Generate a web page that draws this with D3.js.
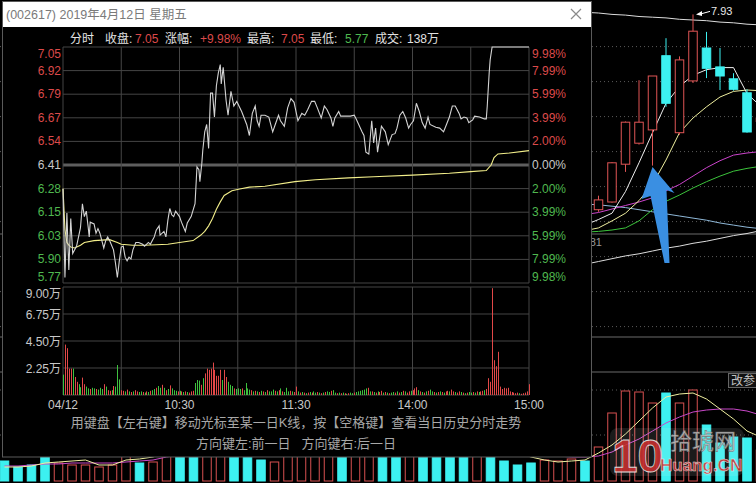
<!DOCTYPE html>
<html><head><meta charset="utf-8">
<script src="https://cdn.jsdelivr.net/npm/d3@7"></script>
<style>
html,body{margin:0;padding:0;background:#000;overflow:hidden}
svg{display:block}
text{font-family:"Liberation Sans",Arial,"Noto Sans CJK SC",sans-serif}
</style></head><body>
<svg id="c" width="756" height="483"></svg>
<script>
// ---------------- intraday data ----------------
const priceTickLabels = ["7.05","6.92","6.79","6.67","6.54","6.41","6.28","6.15","6.03","5.90","5.77"];
const pctTickLabels = ["9.98%","7.99%","5.99%","3.99%","2.00%","0.00%","2.00%","3.99%","5.99%","7.99%","9.98%"];
const volTickValues = [9, 6.75, 4.5, 2.25];
const volTickLabels = ["9.00万","6.75万","4.50万","2.25万"];
const timeTickMinutes = [0, 60, 120, 180, 240];
const timeTickLabels = ["04/12","10:30","11:30","14:00","15:00"];
const preClose = 6.41;

// [minute since 9:30, price]
const priceLine = [[0,6.28],[1,5.80],[2,6.15],[3,5.84],[4,6.12],[5,5.93],[6,5.95],[7,5.97],[8,6.02],[9,6.07],[10,6.20],[11,6.13],[12,6.16],[13,6.07],[13.5,6.02],[14,6.10],[16,6.09],[17,6.04],[18,6.065],[19,6.04],[20,6.00],[21,5.96],[22,6.00],[23,6.02],[24,6.00],[26,5.95],[27,5.88],[28,5.80],[29,5.89],[30,5.965],[31,5.97],[32,5.91],[33,5.89],[34,5.91],[35,5.90],[36,5.95],[37.5,5.99],[39,5.99],[41,5.98],[42,5.97],[44,5.99],[45,5.98],[46,6.00],[47,6.02],[48,6.056],[49.5,6.08],[50,6.03],[52,6.05],[53,6.02],[54,6.11],[55,6.174],[56,6.14],[57,6.13],[58,6.16],[60,6.13],[61,6.10],[63,6.05],[64,6.095],[66,6.13],[68,6.20],[69,6.40],[70,6.385],[70.5,6.32],[71.5,6.42],[72,6.49],[73,6.59],[74,6.63],[75,6.50],[75.5,6.655],[76,6.80],[77,6.80],[78,6.67],[79,6.84],[80,6.91],[81,6.955],[81.5,6.85],[82.5,6.94],[84,6.76],[85,6.68],[86.5,6.81],[88,6.73],[89.5,6.755],[92,6.70],[94.6,6.63],[96,6.57],[97.5,6.69],[99,6.73],[100,6.65],[101,6.62],[102,6.68],[104,6.68],[106,6.67],[108,6.59],[109,6.62],[111,6.68],[112,6.65],[114,6.62],[115.7,6.72],[117.4,6.77],[119,6.75],[121,6.65],[122,6.67],[123,6.69],[124.5,6.68],[126,6.71],[128,6.755],[129.6,6.755],[131,6.72],[133,6.665],[134.6,6.73],[136,6.71],[138,6.665],[139,6.62],[140,6.665],[142,6.70],[143,6.675],[145,6.675],[148,6.675],[150,6.68],[151,6.66],[154,6.59],[155,6.57],[156,6.48],[157.5,6.47],[159,6.65],[160,6.53],[161,6.61],[162,6.48],[164,6.62],[166,6.59],[167.5,6.52],[169.5,6.575],[171,6.58],[172,6.61],[173.5,6.68],[175,6.70],[176.5,6.665],[178,6.61],[179,6.63],[180.5,6.65],[182,6.745],[183.5,6.70],[185,6.64],[186.5,6.61],[188,6.67],[189,6.63],[192,6.615],[194,6.61],[196,6.59],[197.5,6.63],[199,6.67],[200.5,6.73],[202,6.73],[204,6.69],[205,6.66],[206.5,6.67],[208,6.665],[209,6.64],[211,6.655],[212,6.675],[214.5,6.67],[217,6.66],[218,6.66],[218.5,6.73],[219.5,6.91],[220,6.98],[221,7.05],[240,7.05]];

const avgLine = [[0,6.283],[1,6.06],[2,5.99],[3,5.975],[4,5.965],[6,5.96],[9,5.975],[11,5.99],[16,6.00],[24,6.005],[28,5.99],[30,5.98],[36,5.975],[42,5.975],[54,5.98],[60,5.99],[67,6.00],[71,6.03],[73,6.05],[75,6.08],[77,6.12],[79,6.17],[81,6.21],[83,6.245],[87,6.27],[91,6.28],[96,6.29],[104,6.295],[119.5,6.32],[130,6.33],[147,6.34],[160,6.346],[180,6.355],[199,6.365],[210,6.374],[218,6.38],[220.5,6.41],[222,6.45],[224,6.47],[230,6.475],[240,6.488]];

// per-minute volume (万)
const volumes = [
1.7,4.2,3.9,2.2,2.2,2.2,1.5,1.1,0.9,0.65,
1.45,0.9,0.7,0.55,0.5,0.6,0.55,0.5,0.45,0.6,
0.5,0.9,0.7,0.4,0.35,0.4,0.75,0.7,2.5,1.3,
0.4,0.35,0.3,0.45,0.3,0.25,0.3,0.4,0.3,0.25,
0.3,0.25,0.2,0.3,0.25,0.35,0.4,0.5,0.6,0.75,
0.6,0.85,0.6,0.4,0.5,0.8,0.55,0.4,0.35,0.3,
0.35,0.3,0.25,0.3,0.25,0.2,0.3,0.35,1.0,1.25,
1.2,0.85,1.4,1.8,2.2,2.1,2.2,2.7,2.1,1.6,
1.6,2.1,1.25,2.1,1.5,1.1,0.85,0.75,0.55,0.5,
0.55,0.5,0.55,0.4,1.0,0.55,0.45,0.4,0.3,0.35,
0.3,0.25,0.35,0.3,0.25,0.4,0.3,0.3,0.45,0.35,
0.3,0.4,0.55,0.3,0.25,0.6,0.3,0.35,0.3,0.25,
0.7,0.3,0.2,0.25,0.2,0.15,0.2,0.25,0.2,0.3,
0.2,0.25,0.2,0.15,0.2,0.25,0.3,0.25,0.35,0.4,
0.2,0.15,0.2,0.15,0.2,0.15,0.1,0.15,0.2,0.15,
0.2,0.25,0.3,0.35,0.4,0.45,0.55,0.6,0.3,0.3,
0.25,0.2,0.3,0.25,0.35,0.2,0.25,0.2,0.15,0.2,
0.25,0.2,0.3,0.2,0.25,0.35,0.3,0.2,0.3,0.35,
0.4,0.55,0.65,0.4,0.3,0.25,0.2,0.3,0.35,0.45,
0.3,0.25,0.2,0.25,0.3,0.25,0.2,0.3,0.35,0.3,
0.45,0.3,0.25,0.2,0.3,0.25,0.2,0.15,0.2,0.25,
0.2,0.25,0.2,0.3,0.25,0.3,0.35,0.4,0.5,1.4,
1.1,8.9,2.9,2.4,3.6,0.7,0.5,0.6,0.55,0.6,
0.3,0.25,0.2,0.15,0.2,0.15,0.1,0.15,0.2,0.3,
0.9];
const volDir = ["grrrrgrrgg","rrggrggrgg","grgrrgrggg","rrgrgrgrrg","grgrgrggrg","grgrgrgggr","grgrgrrrgg","grgrrrrrrr","rrgrrgggrg","ggrggggrgr","grgrgrgggr","grgrgggrgr","rgrgrgrgrg","grgrgrggrg","grgrgrgrgg","rggggggrgr","grgrrgrgrg","grgrgrgrrg","rrrgrgrgrg","grgrgrgrrg","rrgrrgrgrg","grgrgrrgrr","rrrrrrrrrr","rrrrrgrrrr","r"].join("");

// ---------------- background K-line chart data ----------------
const kFirst = 43; // index of first entry in the arrays below
const kCandles = [ // [open, high, low, close] from index 44
[5.14,5.34,5.11,5.28],[5.25,5.82,5.24,5.81],[5.79,6.40,5.68,6.39],[6.09,6.99,6.07,6.39],
[6.28,7.05,5.77,7.05],[7.34,7.59,6.61,6.66],[6.24,7.33,6.21,7.28],[6.98,7.93,6.95,7.69],
[7.45,7.68,7.02,7.16],[7.18,7.45,6.85,7.05],[7.01,7.09,6.84,6.86],[6.81,6.86,6.24,6.25],
[6.40,6.50,6.30,6.45]];
const kMA5  = [4.92,5.00,5.09,5.40,5.81,6.24,6.66,6.90,7.06,7.14,7.17,7.17,6.80,6.62];
const kMA10 = [4.84,4.88,4.98,5.09,5.27,5.50,5.85,6.24,6.45,6.61,6.75,6.83,6.85,6.84];
const kMA20 = [5.07,5.10,5.15,5.20,5.25,5.31,5.41,5.50,5.62,5.74,5.84,5.92,5.95,5.97];
const kMA30 = [4.82,4.83,4.85,4.88,4.98,5.14,5.26,5.35,5.45,5.54,5.62,5.69,5.73,5.76];
const kMA60 = [5.22,5.21,5.19,5.17,5.14,5.11,5.08,5.05,5.02,4.99,4.95,4.92,4.89,4.87];
const kTopLine = [7.96,7.95,7.93,7.92,7.90,7.89,7.88,7.86,7.85,7.84,7.82,7.81,7.79,7.78];
const kLowLine = [4.36,4.40,4.44,4.48,4.51,4.55,4.59,4.62,4.66,4.69,4.73,4.77,4.80,4.84];
const kGridPrices = [7.47,6.97,6.47,5.97,5.47,4.97,4.47,3.97,3.47];
const kVol = [20,14,16,45,18,16,16,14,16,42,18,19,48,55,60,52,44,50,38,21,19,40,46,52,58,62,48,44,55,50,42,47,52,45,40,36,30,20,16,18,21,20,22,20,34,68,90,89,78,88,78,91,56,38,44,43,31];
const kVolType = "ccccrrrrrrcrrccrrcccrrrrrcrrccrccccrccccrrrcrrrrrcrrccccr";
const kVolMA5 = [14,14,15,18,19,20,21,16,16,21,22,24,28,30,38,44,48,52,48,41,34,34,33,36,43,52,53,53,53,52,48,48,49,47,45,44,41,35,28,24,21,19,20,21,28,36,47,60,73,84,87,88,82,72,62,50,44];
const kVolMA10 = [15,15,16,17,17,18,18,18,18,19,20,21,24,26,29,32,35,38,40,40,40,40,41,42,43,44,45,46,47,48,48,48,48,47,45,44,41,38,34,30,27,25,24,24,25,29,36,42,50,58,64,69,71,72,72,70,66];
const kVolGrid = [91, 46];

// ---------------- drawing ----------------
const svg = d3.select("#c");
svg.append("rect").attr("width",756).attr("height",483).attr("fill","#000");

const RED = "#dc4a4a", GREEN = "#4fb84f", GRID = "#454545", LABEL = "#c8c8c8";

// K-line background chart
const kx = d3.scaleLinear().domain([0,56]).range([4.5, 760.5]);
const ky = d3.scaleLinear().domain([5.77,7.05]).range([165.6,76]);
const kvy = d3.scaleLinear().domain([0,100]).range([481,381]);
const bg = svg.append("g");

bg.selectAll(".kg").data(kGridPrices).join("line")
  .attr("x1",0).attr("x2",756).attr("y1",d=>ky(d)).attr("y2",d=>ky(d))
  .attr("stroke","#5a5a5a").attr("stroke-dasharray","1,3");
bg.selectAll(".kvg").data(kVolGrid).join("line")
  .attr("x1",0).attr("x2",756).attr("y1",d=>kvy(d)).attr("y2",d=>kvy(d))
  .attr("stroke","#5a5a5a").attr("stroke-dasharray","1,3");
[234,337,372].forEach(y=>bg.append("line").attr("x1",0).attr("x2",756).attr("y1",y).attr("y2",y).attr("stroke","#6a6a6a").attr("stroke-width",1));
bg.append("text").attr("x",602).attr("y",242).attr("text-anchor","end").attr("dominant-baseline","central")
  .attr("font-size",11).attr("fill","#9a9a9a").text("5.81");

// "改参" button
bg.append("rect").attr("x",728.5).attr("y",373.5).attr("width",30).attr("height",14).attr("fill","#111").attr("stroke","#666");
bg.append("text").attr("x",731).attr("y",381).attr("dominant-baseline","central").attr("font-size",12).attr("fill","#c0c0c0").text("改参");

const kLine = d3.line().x((d,i)=>kx(kFirst+i)).y(d=>ky(d));
[[kTopLine,"#dcdcdc"],[kLowLine,"#dcdcdc"],[kMA60,"#8fb8d8"],[kMA30,"#3cc43c"],[kMA20,"#cc44cc"],[kMA10,"#f0f0a0"],[kMA5,"#eeeeee"]]
 .forEach(([arr,col])=>bg.append("path").datum(arr).attr("d",kLine).attr("fill","none").attr("stroke",col).attr("stroke-width",1));

const cw = 8.5;
const cg = bg.selectAll(".cd").data(kCandles).join("g");
cg.append("line").attr("x1",(d,i)=>kx(kFirst+1+i)).attr("x2",(d,i)=>kx(kFirst+1+i))
  .attr("y1",d=>ky(d[1])).attr("y2",d=>ky(d[2]))
  .attr("stroke",d=>d[3]>=d[0]?"#e05555":"#3cf0f0");
cg.append("rect").attr("x",(d,i)=>kx(kFirst+1+i)-cw/2).attr("width",cw)
  .attr("y",d=>ky(Math.max(d[0],d[3]))).attr("height",d=>Math.max(1,Math.abs(ky(d[0])-ky(d[3]))))
  .attr("fill",d=>d[3]>=d[0]?"#000":"#3cf0f0").attr("stroke",d=>d[3]>=d[0]?"#e05555":"#3cf0f0");

// 7.93 annotation
const hiIdx = 51, hiVal = 7.93;
bg.append("line").attr("x1",kx(hiIdx)+6).attr("y1",ky(hiVal)).attr("x2",kx(hiIdx)+17).attr("y2",ky(hiVal)-3).attr("stroke","#fff");
bg.append("path").attr("d",`M${kx(hiIdx)+3},${ky(hiVal)} l6,-3.5 l0,5 z`).attr("fill","#fff");
bg.append("text").attr("x",kx(hiIdx)+18).attr("y",ky(hiVal)-3.5).attr("dominant-baseline","central")
  .attr("font-size",11).attr("fill","#e8e8e8").text("7.93");

// K volume panel
bg.selectAll(".kv").data(kVol).join("rect")
  .attr("x",(d,i)=>kx(i)-cw/2).attr("width",cw)
  .attr("y",d=>kvy(d)).attr("height",d=>kvy(0)-kvy(d))
  .attr("fill",(d,i)=>kVolType[i]==="c"?"#3cf0f0":"#000")
  .attr("stroke",(d,i)=>kVolType[i]==="c"?"#3cf0f0":"#d85050");
const kvLine = d3.line().x((d,i)=>kx(i)).y(d=>kvy(d));
bg.append("path").datum(kVolMA10).attr("d",kvLine).attr("fill","none").attr("stroke","#c848c8");
bg.append("path").datum(kVolMA5).attr("d",kvLine).attr("fill","none").attr("stroke","#f0f0a0");

// blue arrow pointing at the 4/12 lower shadow
const tx = kx(48), ty = ky(5.77)+1.5;
bg.append("path").attr("d",`M${tx},${ty} L${tx+22},${ty+26} L${tx+14},${ty+23} L${tx+17},${ty+96} L${tx+12},${ty+96} L${tx-2},${ty+29} L${tx-11},${ty+32} Z`)
  .attr("fill","#3a8fe2");

// watermark
const wm = bg.append("g").attr("opacity",0.9);
wm.append("rect").attr("x",610).attr("y",428).attr("width",134).attr("height",48).attr("rx",8).attr("fill","#ffffff").attr("opacity",0.12);
wm.append("text").attr("x",612).attr("y",472).attr("font-size",46).attr("font-weight","bold").attr("fill","#c83232").attr("stroke","#eee").attr("stroke-width",0.8).text("10");
wm.append("text").attr("x",670).attr("y",449).attr("font-size",22).attr("fill","#c8c8c8").attr("stroke","#777").attr("stroke-width",0.6).text("拾琥网");
wm.append("text").attr("x",660).attr("y",471).attr("font-size",17).attr("font-weight","bold").attr("fill","#cc3333").attr("stroke","#eee").attr("stroke-width",0.5).text("Huang.CN");

// ---------------- popup ----------------
const pop = svg.append("g");
pop.append("rect").attr("x",2.5).attr("y",1.5).attr("width",589).attr("height",455.5).attr("fill","#000").attr("stroke","#5a5a5a");
pop.append("rect").attr("x",3).attr("y",2).attr("width",588).attr("height",25).attr("fill","#fff");
pop.append("text").attr("x",6).attr("y",14.5).attr("dominant-baseline","central").attr("font-size",12.5).attr("fill","#7a7a7a")
  .text("(002617) 2019年4月12日 星期五");
pop.append("path").attr("d","M571,9 L581,19 M581,9 L571,19").attr("stroke","#8a8a8a").attr("stroke-width",1.2);

// header info
const hdr = [["分时",70,"#e6e6e6"],["收盘:",105,"#e0e0e0"],["7.05",135,RED],["涨幅:",165,"#e0e0e0"],["+9.98%",200,RED],
             ["最高:",247,"#e0e0e0"],["7.05",281,RED],["最低:",310,"#e0e0e0"],["5.77",345,GREEN],["成交:",375,"#e0e0e0"],["138万",407,"#e0e0e0"]];
pop.selectAll(".hd").data(hdr).join("text").attr("x",d=>d[1]).attr("y",38.5).attr("dominant-baseline","central")
  .attr("font-size",12).attr("fill",d=>d[2]).text(d=>d[0]);

// scales
const xm = d3.scaleLinear().domain([0,240]).range([63,529]);
const yp = d3.scaleLinear().domain([5.77,7.05]).range([283,47]);
const yv = d3.scaleLinear().domain([0,9]).range([395,287]);
const tickY = d3.scaleLinear().domain([0,priceTickLabels.length-1]).range([47,283]);

const plot = pop.append("g");
// price gridlines
priceTickLabels.forEach((t,i)=>{
  if(i===5) return;
  plot.append("line").attr("x1",63).attr("x2",529).attr("y1",tickY(i)).attr("y2",tickY(i)).attr("stroke",GRID);
});
plot.append("line").attr("x1",63).attr("x2",529).attr("y1",yp(preClose)).attr("y2",yp(preClose)).attr("stroke","#5e5e5e").attr("stroke-width",3);
// volume gridlines
[0].concat(volTickValues).forEach(v=>plot.append("line").attr("x1",63).attr("x2",529).attr("y1",yv(v)).attr("y2",yv(v)).attr("stroke",GRID));
// vertical gridlines
d3.range(0,241,30).forEach(m=>{
  plot.append("line").attr("x1",xm(m)).attr("x2",xm(m)).attr("y1",47).attr("y2",283).attr("stroke",GRID);
  plot.append("line").attr("x1",xm(m)).attr("x2",xm(m)).attr("y1",287).attr("y2",395).attr("stroke",GRID);
});

// price labels
const tcol = i => i<5?RED:(i===5?LABEL:GREEN);
const toff = i => i===0?7:(i===priceTickLabels.length-1?-6:0);
plot.selectAll(".pl").data(priceTickLabels).join("text").attr("x",61).attr("y",(d,i)=>tickY(i)+toff(i))
  .attr("text-anchor","end").attr("dominant-baseline","central").attr("font-size",12).attr("fill",(d,i)=>tcol(i)).text(d=>d);
plot.selectAll(".pr").data(pctTickLabels).join("text").attr("x",532).attr("y",(d,i)=>tickY(i)+toff(i))
  .attr("dominant-baseline","central").attr("font-size",12).attr("fill",(d,i)=>tcol(i)).text(d=>d);
// volume labels
plot.selectAll(".vl").data(volTickValues).join("text").attr("x",61).attr("y",(d,i)=>yv(d)+(i===0?7:1))
  .attr("text-anchor","end").attr("dominant-baseline","central").attr("font-size",12).attr("fill",LABEL).text((d,i)=>volTickLabels[i]);
// time labels
plot.selectAll(".tl").data(timeTickMinutes).join("text").attr("x",d=>xm(d)).attr("y",405)
  .attr("text-anchor","middle").attr("dominant-baseline","central").attr("font-size",12).attr("fill",LABEL).text((d,i)=>timeTickLabels[i]);

// volume bars
plot.selectAll(".vb").data(volumes).join("line")
  .attr("x1",(d,i)=>Math.round(xm(i))+0.5).attr("x2",(d,i)=>Math.round(xm(i))+0.5)
  .attr("y1",yv(0)).attr("y2",d=>yv(d))
  .attr("stroke",(d,i)=>volDir[i]==="g"?"#3fc03f":"#e24848").attr("stroke-width",1);

// avg + price lines
const pl = d3.line().x(d=>xm(d[0])).y(d=>yp(d[1]));
plot.append("path").datum(avgLine).attr("d",pl).attr("fill","none").attr("stroke","#f2ee8a").attr("stroke-width",1.1);
plot.append("path").datum(priceLine).attr("d",pl).attr("fill","none").attr("stroke","#d4d4d4").attr("stroke-width",1.1);

// hint text
plot.append("text").attr("x",296).attr("y",422).attr("text-anchor","middle").attr("dominant-baseline","central")
  .attr("font-size",13).attr("fill","#a8a8a8").text("用键盘【左右键】移动光标至某一日K线，按【空格键】查看当日历史分时走势");
plot.append("text").attr("x",296).attr("y",443).attr("text-anchor","middle").attr("dominant-baseline","central")
  .attr("font-size",13).attr("fill","#a8a8a8").attr("xml:space","preserve").text("方向键左:前一日   方向键右:后一日");
</script></body></html>
